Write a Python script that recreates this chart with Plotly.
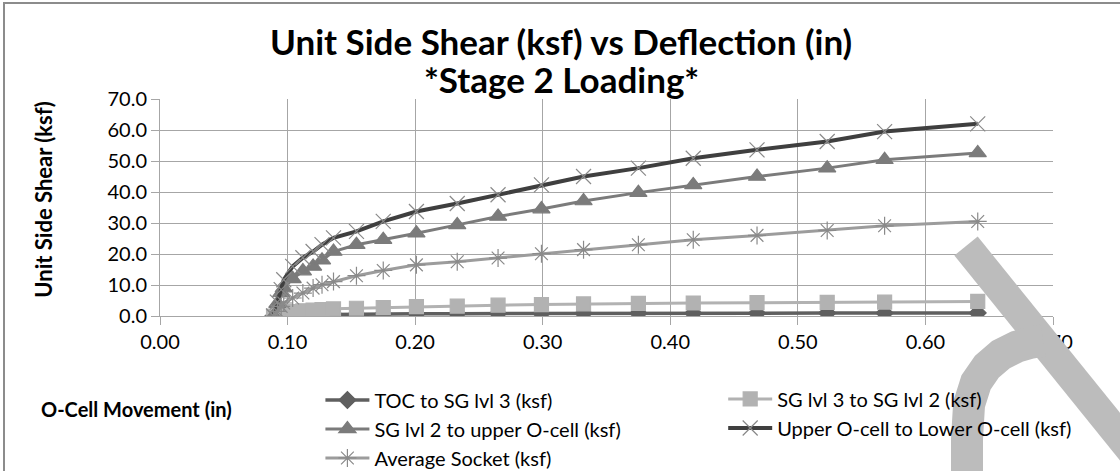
import plotly.graph_objects as go

# O-cell movement (in), shared by all series
movement = [0.089, 0.092, 0.095, 0.097, 0.104, 0.112, 0.120, 0.127, 0.136, 0.154, 0.175,
            0.201, 0.233, 0.265, 0.299, 0.332, 0.375, 0.418, 0.468, 0.523, 0.568, 0.641]

# unit side shear (ksf)
toc_sg3 = [0.0, 0.1, 0.2, 0.3, 0.35, 0.4, 0.45, 0.5, 0.55, 0.6, 0.65,
           0.7, 0.75, 0.8, 0.8, 0.85, 0.85, 0.9, 0.9, 0.95, 0.95, 1.0]
sg3_sg2 = [0.0, 0.4, 0.8, 1.1, 1.4, 1.7, 1.9, 2.1, 2.3, 2.5, 2.7,
           3.0, 3.2, 3.5, 3.7, 3.9, 4.1, 4.2, 4.3, 4.4, 4.5, 4.7]
sg2_upper = [0.0, 4.0, 7.5, 9.0, 12.0, 14.5, 16.0, 18.0, 20.8, 23.0, 24.6,
             26.7, 29.4, 32.1, 34.5, 37.1, 39.8, 42.3, 45.0, 47.7, 50.4, 52.6]
upper_lower = [0.0, 4.5, 8.5, 11.7, 16.0, 18.8, 20.8, 23.0, 25.2, 27.3, 30.5,
               33.7, 36.3, 39.1, 42.3, 45.0, 47.7, 50.9, 53.6, 56.3, 59.5, 62.0]
avg_socket = [0.0, 1.5, 3.1, 4.2, 5.8, 7.4, 9.0, 10.1, 11.1, 13.0, 14.7,
              16.5, 17.5, 18.7, 20.1, 21.4, 23.0, 24.6, 26.0, 27.6, 29.1, 30.5]

# name, values, colour, symbol, size, line width, legend column
series = [
    ("TOC to SG lvl 3 (ksf)", toc_sg3, "#5f5f5f", "diamond", 13, 3.5, "legend"),
    ("SG lvl 3 to SG lvl 2 (ksf)", sg3_sg2, "#b2b2b2", "square", 14, 3, "legend2"),
    ("SG lvl 2 to upper O-cell (ksf)", sg2_upper, "#7b7b7b", "triangle-up", 15, 3, "legend"),
    ("Upper O-cell to Lower O-cell (ksf)", upper_lower, "#3f3f3f", "x-thin-open", 15, 4, "legend2"),
    ("Average Socket (ksf)", avg_socket, "#9c9c9c", "asterisk-open", 15, 3, "legend"),
]

FONT = "Lato"

fig = go.Figure()
for name, vals, col, sym, size, lw, leg in series:
    open_sym = sym.endswith("open")
    fig.add_trace(go.Scatter(
        x=movement, y=vals, name=name, mode="lines+markers", legend=leg,
        line=dict(color=col, width=lw),
        marker=dict(symbol=sym, size=size, color=col if not open_sym else "#8a8a8a",
                    line=dict(width=1.2, color="#8a8a8a" if open_sym else col)),
    ))

W, H = 1120, 471
L, R, T, B = 159.5, 1053.0, 98.5, 316.3   # plot area in px


def px(x, y):
    return (x - L) / (R - L), (B - y) / (B - T)


def path(points):
    out = []
    for i, (x, y) in enumerate(points):
        a, b = px(x, y)
        out.append(("M " if i == 0 else "L ") + f"{a:.4f} {b:.4f}")
    return " ".join(out)


shapes = []
# the reference has no gridline at 0.40
shapes.append(dict(type="line", xref="x", yref="paper", x0=0.4, x1=0.4, y0=0, y1=1,
                   line=dict(color="white", width=2), layer="between"))
# watermark strokes
shapes.append(dict(type="path", xref="paper", yref="paper",
                   path=path([(966, 246), (1135, 456)]),
                   line=dict(color="#bcbcbc", width=30), layer="above"))
arc = [(967, 490), (967, 440), (969, 405), (976, 383), (987, 367), (1001, 355),
       (1017, 347), (1031, 343), (1043, 341)]
shapes.append(dict(type="path", xref="paper", yref="paper", path=path(arc),
                   line=dict(color="#bcbcbc", width=32), layer="above"))

title_font = dict(family=FONT, size=35, color="#000000")
annotations = [
    dict(text="<b>Unit Side Shear (ksf) vs Deflection (in)</b>", xref="paper", yref="paper",
         x=px(561, 0)[0], y=px(0, 40)[1], xanchor="center", yanchor="middle",
         showarrow=False, font=title_font),
    dict(text="<b>*Stage 2 Loading*</b>", xref="paper", yref="paper",
         x=px(561, 0)[0], y=px(0, 78)[1], xanchor="center", yanchor="middle",
         showarrow=False, font=title_font),
    dict(text="<b>Unit Side Shear (ksf)</b>", xref="paper", yref="paper",
         x=px(43, 0)[0], y=px(0, 199)[1], xanchor="center", yanchor="middle",
         textangle=-90, showarrow=False,
         font=dict(size=22, family=FONT, color="#000000")),
    dict(text="<b>O-Cell Movement (in)</b>", xref="paper", yref="paper",
         x=px(38, 0)[0], y=px(0, 410)[1], xanchor="left", yanchor="middle",
         showarrow=False, font=dict(size=20, family=FONT, color="#000000")),
]

legend_common = dict(orientation="v", yanchor="top", tracegroupgap=0, itemwidth=44,
                     font=dict(size=20, family=FONT, color="#000000"),
                     bgcolor="rgba(0,0,0,0)", borderwidth=0)

fig.update_layout(
    width=W, height=H,
    margin=dict(l=L, r=W - R, t=T, b=H - B, autoexpand=False),
    paper_bgcolor="white", plot_bgcolor="white",
    font=dict(family=FONT, size=17, color="#000000"),
    xaxis=dict(range=[0, 0.7], dtick=0.1, tick0=0, tickformat=".2f",
               showgrid=True, gridcolor="#a6a6a6", gridwidth=1,
               showline=True, linecolor="#a6a6a6", linewidth=1,
               ticks="outside", ticklen=8, tickcolor="#a6a6a6",
               zeroline=False, tickfont=dict(size=20, family=FONT, color="#000000")),
    yaxis=dict(range=[0, 70], dtick=10, tick0=0, tickformat=".1f",
               showgrid=True, gridcolor="#a6a6a6", gridwidth=1,
               showline=True, linecolor="#a6a6a6", linewidth=1,
               ticks="outside", ticklen=8, tickcolor="#a6a6a6",
               zeroline=False, tickfont=dict(size=20, family=FONT, color="#000000")),
    showlegend=True,
    legend=dict(x=px(320, 0)[0], xanchor="left", y=px(0, 381)[1], **legend_common),
    legend2=dict(x=px(723, 0)[0], xanchor="left", y=px(0, 380)[1], **legend_common),
    annotations=annotations,
    shapes=shapes,
)

# drop the default page margin and add the chart-area border (left and top edges)
post = (
    "document.body.style.margin='0';"
    "var b=document.createElement('div');"
    "b.style.cssText='position:absolute;left:3px;top:2px;width:1300px;height:700px;"
    "border-left:2px solid #8c8c8c;border-top:2px solid #8c8c8c;pointer-events:none;';"
    "document.body.appendChild(b);"
    "document.body.style.overflow='hidden';"
)
fig.write_html("out.html", config={"displayModeBar": False}, post_script=post)
